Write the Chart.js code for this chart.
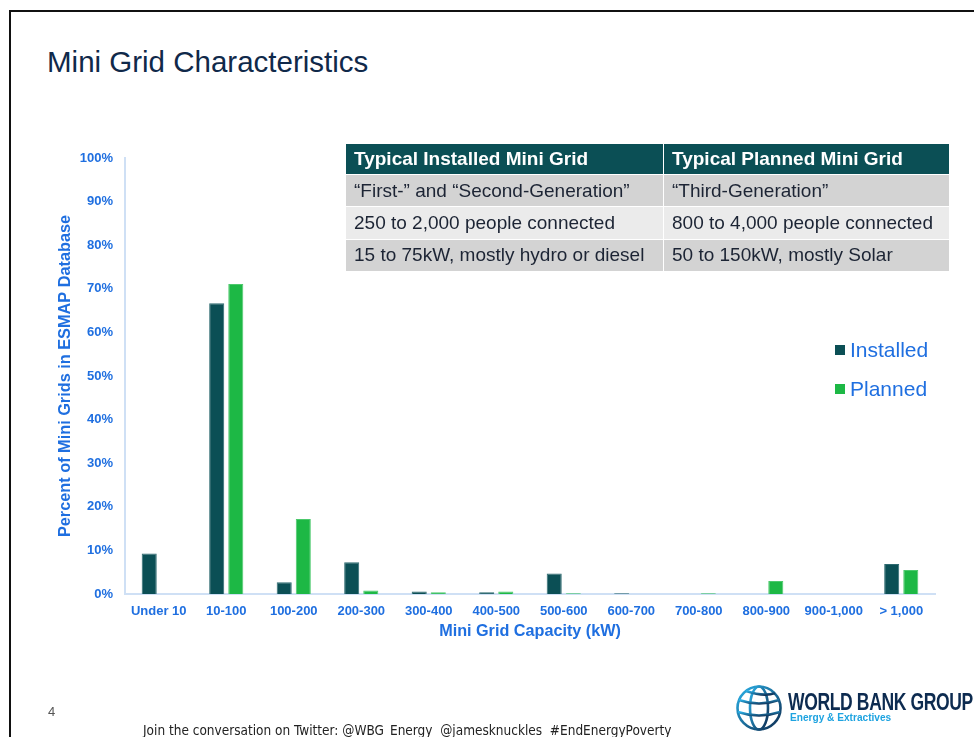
<!DOCTYPE html>
<html>
<head>
<meta charset="utf-8">
<title>Mini Grid Characteristics</title>
<script src="https://cdn.jsdelivr.net/npm/chart.js@4.4.0/dist/chart.umd.min.js"></script>
<style>
  html, body { margin: 0; padding: 0; background: #fff; }
  body { width: 974px; height: 737px; position: relative; overflow: hidden; font-family: "Liberation Sans", Arial, sans-serif; }
  #frame { position: absolute; left: 9px; top: 10px; width: 980px; height: 740px; border-left: 2px solid #111; border-top: 2px solid #111; box-sizing: border-box; }
  #title { position: absolute; left: 47px; top: 45px; font-size: 29.5px; color: #10294a; white-space: nowrap; }
  #chart { position: absolute; left: 0; top: 0; }
  #specs { position: absolute; left: 345px; top: 143px; border-collapse: collapse; font-size: 19px; color: #1c2434; }
  #specs td, #specs th { padding: 0 0 0 8px; height: 31.3px; text-align: left; white-space: nowrap; border: 1px solid #fff; }
  #specs th { background: #0b4f55; color: #fff; font-weight: bold; font-size: 19px; height: 30px; }
  #specs tr.odd td { background: #d3d3d3; }
  #specs tr.even td { background: #ebebeb; }
  .key { position: absolute; left: 835px; font-size: 21px; color: #1f6fe0; white-space: nowrap; }
  .key i { display: inline-block; width: 10px; height: 10px; margin-right: 5px; vertical-align: 2px; }
  #page { position: absolute; left: 48px; top: 704px; font-size: 13px; color: #555; }
  #footer { position: absolute; left: 143px; top: 722px; font-size: 13.5px; color: #222; white-space: nowrap; font-family: "Liberation Sans Narrow", "DejaVu Sans Condensed", sans-serif; }
  #logo { position: absolute; left: 734px; top: 683px; width: 240px; height: 50px; }
  #wbg { position: absolute; left: 54px; top: 5px; font-size: 24px; font-weight: bold; color: #0d2b50; white-space: nowrap; transform: scaleX(0.73); transform-origin: left top; letter-spacing: -0.5px; }
  #ee { position: absolute; left: 56px; top: 28px; font-size: 11px; font-weight: bold; color: #1ea3e0; white-space: nowrap; transform: scaleX(0.92); transform-origin: left top; }
</style>
</head>
<body>
<div id="frame"></div>
<div id="title">Mini Grid Characteristics</div>
<canvas id="chart" width="974" height="737"></canvas>

<table id="specs">
  <tr><th style="width:309px">Typical Installed Mini Grid</th><th style="width:277px">Typical Planned Mini Grid</th></tr>
  <tr class="odd"><td>“First-” and “Second-Generation”</td><td>“Third-Generation”</td></tr>
  <tr class="even"><td>250 to 2,000 people connected</td><td>800 to 4,000 people connected</td></tr>
  <tr class="odd"><td>15 to 75kW, mostly hydro or diesel</td><td>50 to 150kW, mostly Solar</td></tr>
</table>

<div class="key" style="top:338px"><i style="background:#0b4f55"></i>Installed</div>
<div class="key" style="top:377px"><i style="background:#1db845"></i>Planned</div>

<div id="page">4</div>
<div id="footer">Join the conversation on Twitter: @WBG_Energy&nbsp; @jamesknuckles&nbsp; #EndEnergyPoverty</div>

<div id="logo">
  <svg width="50" height="50" viewBox="0 0 50 50">
    <defs>
      <linearGradient id="gl" x1="0" y1="0" x2="1" y2="1">
        <stop offset="0" stop-color="#2bb3ea"/>
        <stop offset="1" stop-color="#0d2b50"/>
      </linearGradient>
    </defs>
    <g fill="none" stroke="url(#gl)" stroke-width="2.6">
      <circle cx="25" cy="25" r="21.5"/>
      <ellipse cx="25" cy="25" rx="9" ry="21.5"/>
      <path d="M25 3.5 V46.5"/>
      <path d="M5 17 Q25 24 45 17"/>
      <path d="M4 29 Q25 36 46 29"/>
      <path d="M12 8 Q30 14 41 10"/>
    </g>
  </svg>
  <div id="wbg">WORLD BANK GROUP</div>
  <div id="ee">Energy &amp; Extractives</div>
</div>

<script>
const categories = ['Under 10', '10-100', '100-200', '200-300', '300-400', '400-500',
  '500-600', '600-700', '700-800', '800-900', '900-1,000', '> 1,000'];
const installed = [9.3, 66.7, 2.7, 7.3, 0.6, 0.4, 4.7, 0.2, 0, 0, 0, 6.9];
const planned = [0, 71.1, 17.2, 0.8, 0.4, 0.6, 0.2, 0, 0.2, 3.0, 0, 5.5];
const yTicks = [0, 10, 20, 30, 40, 50, 60, 70, 80, 90, 100];

const blue = '#1f6fe0';
const axisLine = '#cfe0f5';

new Chart(document.getElementById('chart'), {
  type: 'bar',
  data: {
    labels: categories,
    datasets: [
      { label: 'Installed', data: installed, backgroundColor: '#0b4f55', borderColor: '#2d6a70', borderWidth: 1 },
      { label: 'Planned', data: planned, backgroundColor: '#1db845', borderColor: '#4cc96c', borderWidth: 1 }
    ]
  },
  options: {
    responsive: false,
    animation: false,
    categoryPercentage: 0.565,
    barPercentage: 0.79,
    layout: { padding: { left: 50, top: 158, right: 39, bottom: 93 } },
    plugins: { legend: { display: false }, tooltip: { enabled: false } },
    scales: {
      x: {
        grid: { display: false, drawTicks: false },
        border: { display: true, color: axisLine, width: 2 },
        ticks: { color: blue, padding: 10, maxRotation: 0, autoSkip: false,
          font: { family: 'Liberation Sans', size: 13, weight: 'bold' } },
        title: { display: true, text: 'Mini Grid Capacity (kW)', color: blue, padding: { top: 0, bottom: 3 },
          font: { family: 'Liberation Sans', size: 16.2, weight: 'bold' } },
        afterFit: s => { s.height = 50; }
      },
      y: {
        min: 0, max: 100,
        afterBuildTicks: s => { s.ticks = yTicks.map(v => ({ value: v })); },
        grid: { display: false, drawTicks: false },
        border: { display: true, color: axisLine, width: 2 },
        ticks: { color: blue, padding: 12, callback: v => v + '%',
          font: { family: 'Liberation Sans', size: 13, weight: 'bold' } },
        title: { display: true, text: 'Percent of Mini Grids in ESMAP Database', color: blue, padding: { top: 6, bottom: 0 },
          font: { family: 'Liberation Sans', size: 16.3, weight: 'bold' } },
        afterFit: s => { s.width = 75; }
      }
    }
  }
});
</script>
</body>
</html>
